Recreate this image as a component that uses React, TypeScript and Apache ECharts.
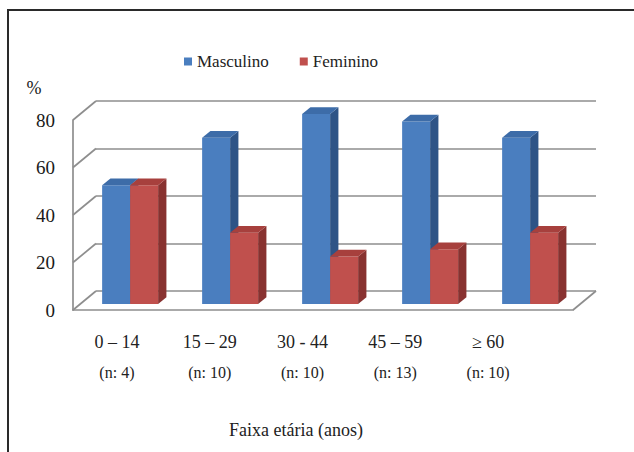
import React, { useEffect, useRef } from "react";
import * as echarts from "echarts";

// Age bands, sample sizes and share of each sex (%) per band
const categories = ["0 – 14", "15 – 29", "30 - 44", "45 – 59", "≥ 60"];
const sampleSizes = [4, 10, 10, 13, 10];
const masculino = [50, 70, 80, 76.9, 70];
const feminino = [50, 30, 20, 23.1, 30];
const yTicks = [0, 20, 40, 60, 80];

const FONT = "Liberation Serif";
const GRID_COLOR = "#8e8e8e";

// Oblique depth of the box (back wall offset from the front plane)
const DX = 23;
const DY = -19;
// Depth slice occupied by the bars (fraction of full depth)
const F0 = 0.31;
const F1 = 0.67;

type Face = { front: string; top: string; side: string };
const BLUE: Face = { front: "#4a7ebf", top: "#3d6ca8", side: "#2e5486" };
const RED: Face = { front: "#c0504d", top: "#a7403d", side: "#883230" };

function makeBarRenderer(side: number, c: Face) {
  return (params: any, api: any) => {
    const i = api.value(0);
    const v = api.value(1);
    const base = api.coord([i, 0]);
    const top = api.coord([i, v]);
    const band = api.size([1, 0])[0];
    const w = band * 0.28;
    const x0 = side < 0 ? base[0] - w : base[0];
    const x1 = x0 + w;
    const ax = DX * F0, ay = DY * F0, bx = DX * F1, by = DY * F1;
    const yb = base[1], yt = top[1];
    return {
      type: "group",
      children: [
        {
          type: "polygon",
          shape: { points: [[x0 + ax, yb + ay], [x1 + ax, yb + ay], [x1 + ax, yt + ay], [x0 + ax, yt + ay]] },
          style: { fill: c.front },
        },
        {
          type: "polygon",
          shape: { points: [[x1 + ax, yb + ay], [x1 + bx, yb + by], [x1 + bx, yt + by], [x1 + ax, yt + ay]] },
          style: { fill: c.side },
        },
        {
          type: "polygon",
          shape: { points: [[x0 + ax, yt + ay], [x1 + ax, yt + ay], [x1 + bx, yt + by], [x0 + bx, yt + by]] },
          style: { fill: c.top },
        },
      ],
    };
  };
}

// Left wall diagonals at each tick, plus the right edge of the floor
function wallRenderer(params: any, api: any) {
  const v = api.value(1);
  const p = api.coord([0, v]);
  const band = api.size([1, 0])[0];
  const left = p[0] - band / 2;
  const children: any[] = [
    {
      type: "line",
      shape: { x1: left, y1: p[1], x2: left + DX, y2: p[1] + DY },
      style: { stroke: GRID_COLOR, lineWidth: 1.7 },
    },
  ];
  if (v === 0) {
    const right = api.coord([categories.length - 1, 0])[0] + band / 2;
    children.push({
      type: "line",
      shape: { x1: right, y1: p[1], x2: right + DX, y2: p[1] + DY },
      style: { stroke: GRID_COLOR, lineWidth: 1.7 },
    });
  }
  return { type: "group", children };
}

export default function App() {
  const ref = useRef<HTMLDivElement>(null);

  useEffect(() => {
    if (!ref.current) return;
    const chart = echarts.init(ref.current, undefined, { renderer: "svg" });
    chart.setOption({
      animation: false,
      backgroundColor: "#ffffff",
      textStyle: { fontFamily: FONT },
      legend: {
        data: ["Masculino", "Feminino"],
        left: 179,
        top: 48,
        icon: "rect",
        itemWidth: 8,
        itemHeight: 8,
        itemGap: 31,
        textStyle: { fontFamily: FONT, fontSize: 17, color: "#222" },
      },
      grid: [
        { left: 73, top: 120, width: 500, height: 190 },
        { left: 73 + DX, top: 120 + DY, width: 500, height: 190 },
        { left: 70.5, top: 324, width: 464, height: 1 },
      ],
      xAxis: [
        {
          type: "category",
          gridIndex: 0,
          data: categories,
          axisLine: { show: true, lineStyle: { color: GRID_COLOR, width: 1.7 } },
          axisTick: { show: false },
          axisLabel: { show: false },
        },
        {
          type: "category",
          gridIndex: 1,
          data: categories,
          axisLine: { show: false },
          axisTick: { show: false },
          axisLabel: { show: false },
        },
        {
          type: "category",
          gridIndex: 2,
          data: categories,
          axisLine: { show: false },
          axisTick: { show: false },
          axisLabel: {
            margin: 2,
            interval: 0,
            formatter: (val: string, idx: number) => `{a|${val}}\n{b|(n: ${sampleSizes[idx]})}`,
            rich: {
              a: { fontFamily: FONT, fontSize: 18, lineHeight: 30, color: "#222" },
              b: { fontFamily: FONT, fontSize: 16, lineHeight: 30, color: "#222" },
            },
          },
        },
      ],
      yAxis: [
        {
          type: "value",
          gridIndex: 0,
          min: 0,
          max: 80,
          interval: 20,
          axisLine: { show: true, lineStyle: { color: GRID_COLOR, width: 1.7 } },
          axisTick: { show: false },
          splitLine: { show: false },
          axisLabel: { margin: 18, fontFamily: FONT, fontSize: 19, color: "#1a1a1a" },
        },
        {
          type: "value",
          gridIndex: 1,
          min: 0,
          max: 80,
          interval: 20,
          axisLine: { show: false },
          axisTick: { show: false },
          axisLabel: { show: false },
          splitLine: { show: true, lineStyle: { color: GRID_COLOR, width: 1.7 } },
        },
        {
          type: "value",
          gridIndex: 2,
          min: 0,
          max: 1,
          axisLine: { show: false },
          axisTick: { show: false },
          axisLabel: { show: false },
          splitLine: { show: false },
        },
      ],
      graphic: [
        {
          type: "rect",
          shape: { x: 8, y: 10, width: 700, height: 500 },
          style: { fill: "none", stroke: "#2a2a2a", lineWidth: 2 },
          silent: true,
        },
        {
          type: "text",
          x: 34,
          y: 88,
          style: { text: "%", fontFamily: FONT, fontSize: 18, fill: "#1a1a1a", align: "center", verticalAlign: "middle" },
        },
        {
          type: "text",
          x: 296,
          y: 430,
          style: { text: "Faixa etária (anos)", fontFamily: FONT, fontSize: 18, fill: "#222", align: "center", verticalAlign: "middle" },
        },
      ],
      series: [
        {
          name: "wall",
          type: "custom",
          xAxisIndex: 0,
          yAxisIndex: 0,
          clip: false,
          silent: true,
          data: yTicks.map((v) => [0, v]),
          renderItem: wallRenderer,
        },
        {
          name: "Masculino",
          type: "custom",
          xAxisIndex: 0,
          yAxisIndex: 0,
          clip: false,
          itemStyle: { color: BLUE.front },
          data: masculino.map((v, i) => [i, v]),
          renderItem: makeBarRenderer(-1, BLUE),
        },
        {
          name: "Feminino",
          type: "custom",
          xAxisIndex: 0,
          yAxisIndex: 0,
          clip: false,
          itemStyle: { color: RED.front },
          data: feminino.map((v, i) => [i, v]),
          renderItem: makeBarRenderer(1, RED),
        },
      ],
    });
    return () => chart.dispose();
  }, []);

  return (
    <div
      ref={ref}
      style={{ position: "fixed", left: 0, top: 0, width: 634, height: 452 }}
    />
  );
}
